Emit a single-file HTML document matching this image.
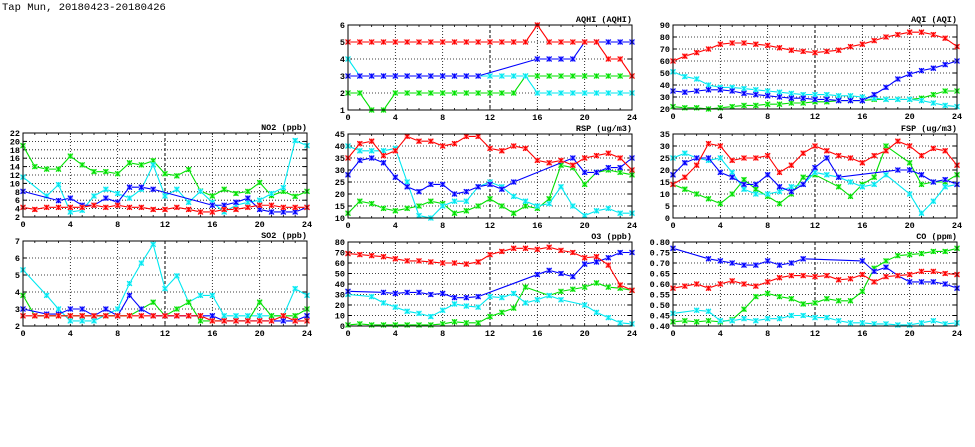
<!DOCTYPE html>
<html><head><meta charset="utf-8">
<style>
body{margin:0;background:#fff;width:975px;height:447px;overflow:hidden}
svg{display:block;font-family:"Liberation Mono",monospace}
</style></head>
<body>
<svg id="c" width="975" height="447">
<text x="2" y="10" font-size="10.5" fill="#000">Tap Mun, 20180423-20180426</text>
</svg>
<script>
const hours = [0,1,2,3,4,5,6,7,8,9,10,11,12,13,14,15,16,17,18,19,20,21,22,23,24];
const xTicks = [0,4,8,12,16,20,24];
const N = null;
// AQHI
const aqhiRed   = [5,5,5,5,5,5,5,5,5,5,5,5,5,5,5,5,6,5,5,5,5,5,4,4,3];
const aqhiBlue  = [3,3,3,3,3,3,3,3,3,3,3,3,N,N,N,N,4,4,4,4,5,5,5,5,5];
const aqhiCyan  = [4,3,3,3,3,3,3,3,3,3,3,3,3,3,3,3,2,2,2,2,2,2,2,2,2];
const aqhiGreen = [2,2,1,1,2,2,2,2,2,2,2,2,2,2,2,3,3,3,3,3,3,3,3,3,3];
const aqhiTicks = [1,2,3,4,5,6];
// AQI
const aqiRed   = [60,64,67,70,74,75,75,74,73,71,69,68,67,68,69,72,74,77,80,82,84,84,82,79,72];
const aqiBlue  = [35,34,35,36,36,35,33,32,31,30,29,29,28,28,27,27,27,32,38,45,49,52,54,57,60];
const aqiCyan  = [51,47,45,40,38,38,37,36,35,34,33,32,32,32,31,31,30,29,28,28,28,27,25,23,22];
const aqiGreen = [22,21,21,20,21,22,23,23,24,24,25,25,26,26,27,27,27,28,28,28,28,29,32,35,35];
const aqiTicks = [20,30,40,50,60,70,80,90];
// NO2
const no2Red   = [4.3,3.8,4.3,4.3,4.3,4.3,4.8,4.3,4.8,4.3,4.3,3.8,3.8,4.3,3.8,3.2,3.2,3.8,3.8,4.3,4.8,4.8,4.3,4.3,4.3];
const no2Blue  = [8.1,N,N,5.9,6.5,4.8,4.8,6.5,5.5,9.1,9.1,8.6,N,N,N,N,4.8,4.8,5.5,6.5,3.8,3.2,3.2,3.2,4.3];
const no2Cyan  = [11.5,N,7,9.7,3.2,3.6,7,8.6,7.6,6.5,8.6,14.4,7,8.6,5.5,8.1,5.5,3.2,4.8,5.5,6,7.6,9,20.2,19];
const no2Green = [19,14,13.4,13.4,16.5,14.4,12.8,12.8,12.3,14.9,14.4,15.4,12.3,11.8,13.3,8.2,7,8.6,7.6,8.1,10.2,7.1,8.1,6.9,8.1];
const no2Ticks = [2,4,6,8,10,12,14,16,18,20,22];
// RSP
const rspRed   = [35,41,42,36,38,44,42,42,40,41,44,44,39,38,40,39,34,33,34,32,35,36,37,35,30];
const rspBlue  = [28,34,35,33,27,23,21,24,24,20,21,23,24,22,25,N,N,N,N,35,29,29,31,31,35];
const rspCyan  = [40,38,38,38,39,25,11,10,15,17,17,23,25,23,19,17,15,16,23,15,11,13,14,12,12];
const rspGreen = [12,17,16,14,13,14,15,17,16,12,13,15,18,15,12,15,14,18,32,31,24,29,30,29,28];
const rspTicks = [10,15,20,25,30,35,40,45];
// FSP
const fspRed   = [14,17,22,31,30,24,25,25,26,19,22,27,30,28,26,25,23,26,28,32,30,26,29,28,22];
const fspBlue  = [18,23,25,25,19,17,14,14,18,13,11,14,21,25,17,N,N,N,N,20,20,18,15,16,14];
const fspCyan  = [25,27,25,24,25,19,12,10,10,11,13,14,19,18,17,15,13,14,18,N,10,2,7,13,14];
const fspGreen = [14,12,10,8,6,10,16,12,9,6,10,17,18,N,13,9,14,17,30,N,23,14,15,15,18];
const fspTicks = [0,5,10,15,20,25,30,35];
// SO2
const so2Red   = [2.6,2.6,2.6,2.6,2.6,2.6,2.6,2.6,2.6,2.6,2.6,2.6,2.6,2.6,2.6,2.6,2.3,2.3,2.3,2.3,2.3,2.3,2.6,2.3,2.3];
const so2Blue  = [3.0,N,2.7,2.7,3.0,3.0,2.6,3.0,2.6,3.8,3.0,2.6,2.6,2.6,2.6,2.6,2.6,2.3,2.3,2.3,2.3,2.3,2.3,2.3,2.6];
const so2Cyan  = [5.3,N,3.8,3.0,2.3,2.3,2.3,N,3.0,4.5,5.7,6.8,4.2,4.95,3.4,3.8,3.8,2.6,2.6,2.6,2.6,2.6,2.6,4.2,3.8];
const so2Green = [3.8,2.6,2.6,2.6,2.6,2.6,2.6,2.6,2.6,2.6,3.0,3.4,2.6,3.0,3.4,2.3,2.3,2.3,2.3,2.3,3.4,2.6,2.6,2.6,3.0];
const so2Ticks = [2,3,4,5,6,7];
// O3
const o3Red   = [69,68,67,66,64,62,62,61,60,60,59,61,68,71,74,74,73,75,72,70,65,66,58,39,34];
const o3Blue  = [33,N,N,32,31,32,32,30,31,27,27,28,N,N,N,N,49,53,50,47,59,61,65,70,70];
const o3Cyan  = [30,N,28,22,18,14,12,9,15,21,19,18,28,27,31,22,25,29,25,N,20,13,8,3,2];
const o3Green = [1,2,1,1,1,1,1,1,2,4,3,3,9,13,17,37,N,29,33,35,37,41,37,36,34];
const o3Ticks = [0,10,20,30,40,50,60,70,80];
// CO
const coRed   = [.58,.59,.60,.58,.60,.615,.60,.59,.61,.63,.64,.64,.635,.64,.62,.625,.645,.61,.635,.64,.645,.66,.66,.65,.645];
const coBlue  = [.77,N,N,.72,.71,.70,.69,.69,.71,.69,.70,.72,N,N,N,N,.71,.66,.68,.64,.61,.61,.61,.60,.58];
const coCyan  = [.46,N,.475,.47,.425,.425,.435,.425,.435,.435,.45,.45,.44,.44,.425,.415,.415,.41,.41,.405,.405,.415,.425,.41,.415];
const coGreen = [.42,.425,.42,.425,.42,.43,.48,.54,.555,.54,.53,.505,.51,.53,.52,.52,.565,.675,.71,.735,.74,.745,.755,.755,.77];
const coTicks = [.40,.45,.50,.55,.60,.65,.70,.75,.80];

const NS="http://www.w3.org/2000/svg";
const svg=document.getElementById('c');
function mk(tag,attrs,parent){const e=document.createElementNS(NS,tag);for(const k in attrs)e.setAttribute(k,attrs[k]);(parent||svg).appendChild(e);return e;}

const COL={red:['#ff0000','#ffa0a0'],blue:['#0000ff','#a0a0ff'],cyan:['#00e8f0','#a0f8ff'],green:['#00e000','#a0f8a0']};

function panel(name,title,x0,y0,w,h,ticks,fmt,series){
  const g=mk('g',{});
  
  
  const ymin=ticks[0],ymax=ticks[ticks.length-1];
  const xs=v=>x0+v/24*w;
  const ys=v=>y0+h-(v-ymin)/(ymax-ymin)*h;
  ticks.forEach(t=>{
    if(t===ymin||t===ymax)return;
    const l=mk('line',{x1:x0,x2:x0+w,y1:ys(t),y2:ys(t),stroke:'#000','stroke-width':0.8,'stroke-dasharray':'1,2'},g);
    
    
  });
  xTicks.forEach(t=>{
    if(t===0||t===24)return;
    const dark=(t===12);
    const l=mk('line',{x1:xs(t),x2:xs(t),y1:y0,y2:y0+h,stroke:'#000','stroke-width':dark?1:0.8,'stroke-dasharray':dark?'3,2':'1,2'},g);
    
    
  });
  hours.forEach(hh=>{
    mk('line',{x1:xs(hh),x2:xs(hh),y1:y0+h,y2:y0+h-2,stroke:'#000','stroke-width':0.8},g);
    mk('line',{x1:xs(hh),x2:xs(hh),y1:y0,y2:y0+2,stroke:'#000','stroke-width':0.8},g);
  });
  ticks.forEach(t=>{
    mk('line',{x1:x0,x2:x0+4,y1:ys(t),y2:ys(t),stroke:'#000'},g);
    mk('line',{x1:x0+w,x2:x0+w-4,y1:ys(t),y2:ys(t),stroke:'#000'},g);
    const tx=mk('text',{x:x0-3,y:ys(t)+3,'font-size':8.5,'font-weight':'bold','text-anchor':'end'},g);
    tx.textContent=fmt(t);
    
    
  });
  xTicks.forEach(t=>{
    const tx=mk('text',{x:xs(t),y:y0+h+10,'font-size':8.5,'font-weight':'bold','text-anchor':'middle'},g);
    tx.textContent=t;
    
    
  });
  const tt=mk('text',{x:x0+w,y:y0-3,'font-size':8.5,'font-weight':'bold','text-anchor':'end',fill:'#000'},g);
  tt.textContent=title;
  
  
  series.forEach(([key,data])=>{
    const [c,lc]=COL[key];
    const pts=[];
    data.forEach((v,i)=>{if(v!==null)pts.push([xs(hours[i]),ys(v)]);});
    const pl=mk('polyline',{points:pts.map(p=>p.join(',')).join(' '),fill:'none',stroke:c,'stroke-width':1.1},g);
    
    
    pts.forEach(([px,py])=>{
      const m=mk('g',{},g);
      
      
      mk('rect',{x:px-2.5,y:py-2.5,width:5,height:5,fill:lc},m);
      mk('path',{d:`M${px-2.5},${py-2.5}L${px+2.5},${py+2.5}M${px-2.5},${py+2.5}L${px+2.5},${py-2.5}M${px},${py-2.5}L${px},${py+2.5}`,stroke:c,'stroke-width':1.1},m);
    });
  });
  const fr=mk('rect',{x:x0,y:y0,width:w,height:h,fill:'none',stroke:'#000','stroke-width':1},g);
  
  
}
const i0=v=>String(v);
const f2=v=>v.toFixed(2);
panel('aqhi','AQHI (AQHI)',348,25,284,85,aqhiTicks,i0,[['green',aqhiGreen],['cyan',aqhiCyan],['blue',aqhiBlue],['red',aqhiRed]]);
panel('aqi','AQI (AQI)',673,25,284,84,aqiTicks,i0,[['green',aqiGreen],['cyan',aqiCyan],['blue',aqiBlue],['red',aqiRed]]);
panel('no2','NO2 (ppb)',23,133,284,84,no2Ticks,i0,[['green',no2Green],['cyan',no2Cyan],['blue',no2Blue],['red',no2Red]]);
panel('rsp','RSP (ug/m3)',348,134,284,84,rspTicks,i0,[['green',rspGreen],['cyan',rspCyan],['blue',rspBlue],['red',rspRed]]);
panel('fsp','FSP (ug/m3)',673,134,284,84,fspTicks,i0,[['green',fspGreen],['cyan',fspCyan],['blue',fspBlue],['red',fspRed]]);
panel('so2','SO2 (ppb)',23,241,284,85,so2Ticks,i0,[['cyan',so2Cyan],['green',so2Green],['blue',so2Blue],['red',so2Red]]);
panel('o3','O3 (ppb)',348,242,284,84,o3Ticks,i0,[['green',o3Green],['cyan',o3Cyan],['blue',o3Blue],['red',o3Red]]);
panel('co','CO (ppm)',673,242,284,84,coTicks,f2,[['green',coGreen],['cyan',coCyan],['blue',coBlue],['red',coRed]]);
</script>
</body></html>
